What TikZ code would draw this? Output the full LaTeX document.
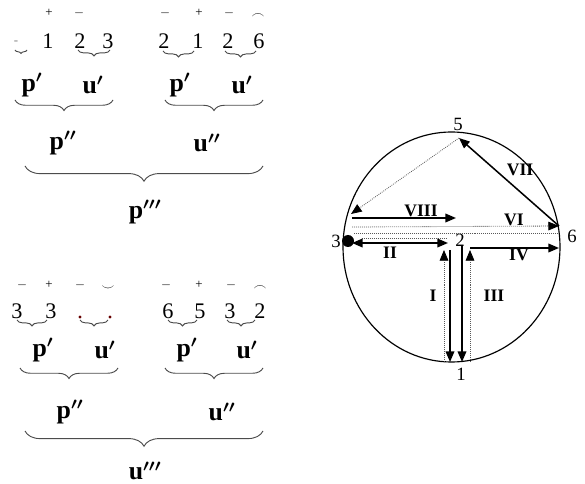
\documentclass[tikz,border=0pt]{standalone}
\usepackage{amsmath,amssymb}
\usepackage{fontspec}
\setmainfont{Liberation Serif}
\usepackage{tikz}
\usetikzlibrary{arrows.meta,decorations.pathreplacing,positioning}

\tikzset{
  llave/.style={decorate,decoration={brace,mirror,amplitude=#1},draw=gray!60!black,line width=0.8pt},
  llave/.default=5pt,
  cifra/.style={font=\fontsize{19}{22}\selectfont},
  signo/.style={font=\fontsize{11}{12}\selectfont},
  etiq/.style={font=\fontsize{22}{24}\selectfont\bfseries\boldmath},
  numero/.style={font=\fontsize{16}{18}\selectfont},
  romano/.style={font=\fontsize{15}{17}\selectfont\bfseries},
  flecha/.style={line width=1.3pt,-{Triangle[length=3.2mm,width=2.6mm]}},
  punteada/.style={densely dotted,line width=0.7pt,gray!70!black,-{Triangle[length=3.2mm,width=2.6mm,black]}},
  punteada sin/.style={densely dotted,line width=0.7pt,gray!70!black}
}

\begin{document}
\begin{tikzpicture}[x=0.03cm,y=-0.03cm]
  \useasboundingbox (0,0) rectangle (585,484);

  % Primer grupo: p'''
  \node[signo] (sa1) at (49,13) {+};
  \node[signo] (sa2) at (79,13) {$-$};
  \node[signo,gray] (sa0) at (16,43) {-};
  \node[cifra] (a1) at (48,41) {1};
  \node[cifra] (a2) at (80,41) {2};
  \node[cifra] (a3) at (108,41) {3};
  \draw[llave=3pt] (15,50) -- (27,50);
  \draw[llave] (78,50) -- (110,50);
  \node[etiq] (pa) at (32,85) {p$'$};
  \node[etiq] (ua) at (93,85) {u$'$};
  \draw[llave=9pt] (15,100) -- (113,100);

  \node[signo] (sb1) at (165,13) {$-$};
  \node[signo] (sb2) at (199,13) {+};
  \node[signo] (sb3) at (229,13) {$-$};
  \node[signo] (sb4) at (258,16) {$\frown$};
  \node[cifra] (b1) at (164,41) {2};
  \node[cifra] (b2) at (198,41) {1};
  \node[cifra] (b3) at (228,41) {2};
  \node[cifra] (b4) at (259,41) {6};
  \draw[llave] (163,51) -- (194,51);
  \draw[llave] (225,51) -- (256,51);
  \node[etiq] (pb) at (180,85) {p$'$};
  \node[etiq] (ub) at (242,85) {u$'$};
  \draw[llave=9pt] (165,100) -- (263,100);

  \node[etiq] (pab) at (63,143) {p$''$};
  \node[etiq] (uab) at (207,143) {u$''$};
  \draw[llave=13pt] (25,166) -- (263,166);
  \node[etiq] (ptres) at (145,212) {p$'''$};

  % Segundo grupo: u'''
  \node[signo] (sc1) at (22,285) {$-$};
  \node[signo] (sc2) at (49,285) {+};
  \node[signo] (sc3) at (80,285) {$-$};
  \node[signo] (sc4) at (108,288) {$\smile$};
  \node[cifra] (c1) at (17,311) {3};
  \node[cifra] (c2) at (51,311) {3};
  \fill[red!40!black] (80,317) circle (1.6);
  \fill[red!40!black] (110,317) circle (1.6);
  \draw[llave] (17,320) -- (47,320);
  \draw[llave] (80,320) -- (108,320);
  \node[etiq] (pc) at (43,350) {p$'$};
  \node[etiq] (uc) at (105,350) {u$'$};
  \draw[llave=9pt] (20,368) -- (118,368);

  \node[signo] (sd1) at (166,285) {$-$};
  \node[signo] (sd2) at (199,285) {+};
  \node[signo] (sd3) at (231,285) {$-$};
  \node[signo] (sd4) at (260,288) {$\frown$};
  \node[cifra] (d1) at (168,311) {6};
  \node[cifra] (d2) at (200,311) {5};
  \node[cifra] (d3) at (230,311) {3};
  \node[cifra] (d4) at (260,311) {2};
  \draw[llave] (168,320) -- (197,320);
  \draw[llave] (227,320) -- (255,320);
  \node[etiq] (pd) at (187,350) {p$'$};
  \node[etiq] (ud) at (247,350) {u$'$};
  \draw[llave=9pt] (165,368) -- (263,368);

  \node[etiq] (pcd) at (70,412) {p$''$};
  \node[etiq] (ucd) at (222,412) {u$''$};
  \draw[llave=13pt] (25,431) -- (263,431);
  \node[etiq] (utres) at (145,471) {u$'''$};

  % El círculo con los recorridos
  \draw[line width=1pt] (451.5,247) ellipse [x radius=108.5, y radius=115];
  \node[numero] (n5) at (458,124) {5};
  \node[numero] (n6) at (572,236) {6};
  \node[numero] (n3) at (336,241) {3};
  \node[numero] (n2) at (460,240) {2};
  \node[numero] (n1) at (461,374) {1};

  \coordinate (c5) at (459,138);
  \coordinate (c6) at (559,226);
  \coordinate (iz1) at (351,214);
  \coordinate (iz2) at (352,218);
  \coordinate (de2) at (456,218);
  \coordinate (iz3) at (352,227);
  \coordinate (iz4) at (354,233);
  \coordinate (de4) at (559,233);
  \coordinate (iz5) at (362,238);
  \coordinate (de5) at (447,238);
  \coordinate (iz6) at (352,243);
  \coordinate (de6) at (448,243);
  \coordinate (iz7) at (470,248);
  \coordinate (de7) at (559,248);
  \coordinate (ba) at (444,362);
  \coordinate (bb) at (450,362);
  \coordinate (bc) at (462,362);
  \coordinate (bd) at (470,362);
  \coordinate (aa) at (444,250);
  \coordinate (ab) at (450,250);
  \coordinate (ac) at (462,245);
  \coordinate (ad) at (470,250);

  \draw[flecha] (c6) -- (c5);
  \draw[punteada] (c5) -- (iz1);
  \draw[flecha] (iz2) -- (de2);
  \draw[punteada] (iz3) -- (c6);
  \draw[punteada sin] (iz4) -- (de4);
  \draw[punteada sin] (iz5) -- (de5);
  \draw[flecha,{Triangle[length=3.2mm,width=2.6mm]}-{Triangle[length=3.2mm,width=2.6mm]}] (iz6) -- (de6);
  \draw[flecha] (iz7) -- (de7);
  \draw[punteada] (ba) -- (aa);
  \draw[flecha] (ab) -- (bb);
  \draw[flecha] (ac) -- (bc);
  \draw[punteada] (bd) -- (ad);
  \fill (348,241) circle (6);

  % Etiquetas de los tramos
  \node[romano] (r7) at (520,170) {VII};
  \node[romano] (r8) at (421,211) {VIII};
  \node[romano] (r6) at (514,220) {VI};
  \node[romano] (r2) at (390,253) {II};
  \node[romano] (r4) at (519,255) {IV};
  \node[romano] (r1) at (433,296) {I};
  \node[romano] (r3) at (494,296) {III};
\end{tikzpicture}
\end{document}
